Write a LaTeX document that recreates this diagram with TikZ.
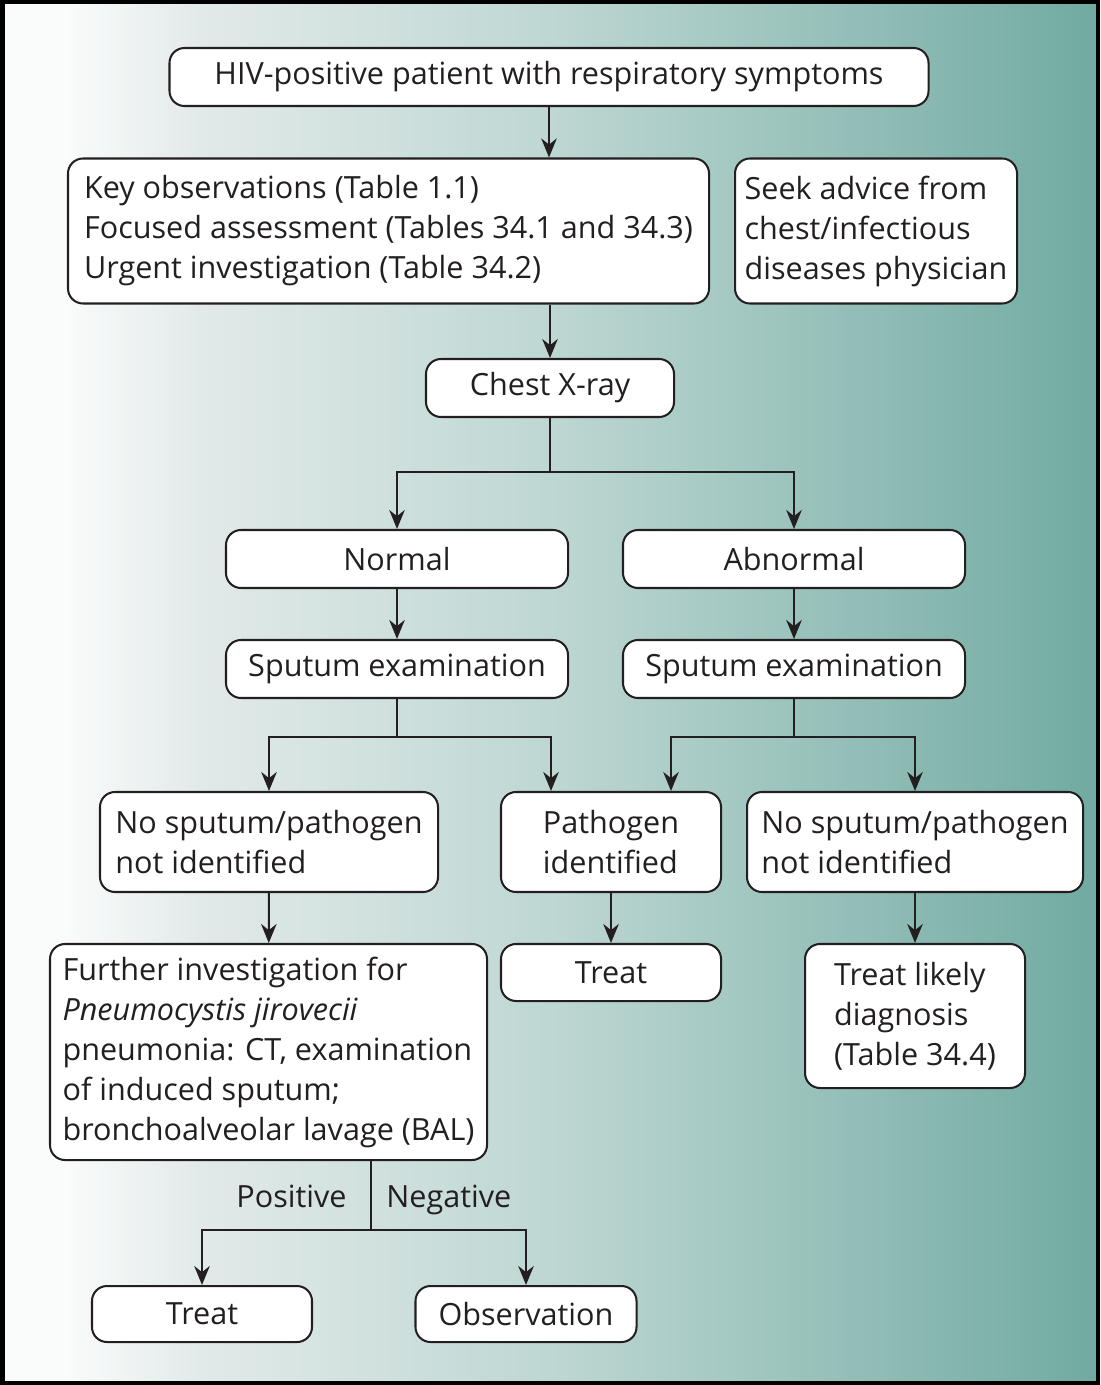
\documentclass[tikz,border=0pt]{standalone}
\usepackage{fontspec}
\setmainfont{Open Sans}
\usetikzlibrary{arrows.meta,positioning,calc}
\definecolor{ink}{RGB}{35,31,32}
\definecolor{fadeA}{RGB}{250,251,251}
\definecolor{fadeB}{RGB}{226,234,233}
\definecolor{fadeC}{RGB}{190,215,211}
\definecolor{fadeD}{RGB}{112,170,161}
\pgfdeclarehorizontalshading{bgfade}{100bp}{color(0bp)=(fadeA); color(25bp)=(fadeA);
  color(28bp)=(fadeA); color(34bp)=(fadeB); color(50bp)=(fadeC); color(75bp)=(fadeD); color(100bp)=(fadeD)}
\tikzset{
  box/.style  = {rounded corners=3mm, draw=ink, line width=1.15pt, fill=white, text=ink,
                 align=center, inner sep=0pt, font=\fontsize{17.4}{22.76}\selectfont},
  lab/.style  = {text=ink, inner sep=0pt, font=\fontsize{17.4}{22.76}\selectfont},
  flow/.style = {-{Stealth[length=3.8mm, width=3.1mm]}, draw=ink, line width=1.15pt},
  link/.style = {draw=ink, line width=1.15pt},
}

\begin{document}
\begin{tikzpicture}[x=0.2mm, y=-0.2mm]
\useasboundingbox (0,0) rectangle (1100,1385);
\shade[shading=bgfade] (0,0) rectangle (1100,1385);
\draw[line width=0.9mm] (2.25,2.25) rectangle (1097.75,1382.75);

% Top: presentation and first assessment
\node[box, minimum width=151.8mm, minimum height=11.6mm] (hiv) at (549,77)
  {HIV-positive patient with respiratory symptoms};
\node[box, align=left, minimum width=128.2mm, minimum height=29mm] (key) at (388.5,231)
  {Key observations (Table 1.1)\\Focused assessment (Tables 34.1 and 34.3)\\Urgent investigation (Table 34.2)};
\node[box, align=left, minimum width=56.4mm, minimum height=29mm] (advice) at (876,231)
  {Seek advice from\\chest/infectious\\diseases physician};
\node[box, minimum width=49.6mm, minimum height=11.6mm] (cxr) at (550,388) {Chest X-ray};

% Chest X-ray result
\node[box, minimum width=68.4mm, minimum height=11.6mm] (normal) at (397,559) {Normal};
\node[box, minimum width=68.4mm, minimum height=11.6mm] (abnormal) at (794,559) {Abnormal};
\node[box, minimum width=68.4mm, minimum height=11.6mm] (sputL) at (397,669) {Sputum examination};
\node[box, minimum width=68.4mm, minimum height=11.6mm] (sputR) at (794,669) {Sputum examination};

% Sputum outcome
\node[box, align=left, minimum width=67.6mm, minimum height=20mm] (noneL) at (269,842)
  {No sputum/pathogen\\not identified};
\node[box, align=left, minimum width=44mm, minimum height=20mm] (found) at (611,842)
  {Pathogen\\identified};
\node[box, align=left, minimum width=67.2mm, minimum height=20mm] (noneR) at (915,842)
  {No sputum/pathogen\\not identified};

% Next steps
\node[box, align=left, minimum width=87.4mm, minimum height=43.2mm] (pcp) at (268.5,1052)
  {Further investigation for\\\textit{Pneumocystis jirovecii}\\pneumonia: CT, examination\\of induced sputum;\\bronchoalveolar lavage (BAL)};
\node[box, minimum width=44mm, minimum height=11.4mm] (treatM) at (611,972.5) {Treat};
\node[box, align=left, minimum width=44mm, minimum height=28.8mm] (likely) at (915,1016)
  {Treat likely\\diagnosis\\(Table 34.4)};
\node[box, minimum width=44mm, minimum height=11.2mm] (treatB) at (202,1314) {Treat};
\node[box, minimum width=44.2mm, minimum height=11.2mm] (obs) at (526,1314) {Observation};

\node[lab, anchor=base east] (pos) at (347,1207) {Positive};
\node[lab, anchor=base west] (neg) at (386,1207) {Negative};

% Branch points
\coordinate (b1) at (550,472);
\coordinate (b2) at (397,737);
\coordinate (b3) at (794,737);
\coordinate (b4) at (371,1230);

\draw[flow] (hiv.south) -- (hiv.south |- key.north);
\draw[flow] (key.south -| cxr.north) -- (cxr.north);
\draw[link] (cxr.south) -- (b1);
\draw[flow] (b1) -| (normal.north);
\draw[flow] (b1) -| (abnormal.north);
\draw[flow] (normal) -- (sputL);
\draw[flow] (abnormal) -- (sputR);
\draw[link] (sputL.south) -- (b2);
\draw[flow] (b2) -| (noneL.north);
\draw[flow] (b2) -| ([xshift=-12mm]found.north);
\draw[link] (sputR.south) -- (b3);
\draw[flow] (b3) -| ([xshift=12mm]found.north);
\draw[flow] (b3) -| (noneR.north);
\draw[flow] (noneL) -- (pcp);
\draw[flow] (found) -- (treatM);
\draw[flow] (noneR) -- (likely);
\draw[link] (pcp.south -| b4) -- (b4);
\draw[flow] (b4) -| (treatB.north);
\draw[flow] (b4) -| (obs.north);
\end{tikzpicture}
\end{document}
